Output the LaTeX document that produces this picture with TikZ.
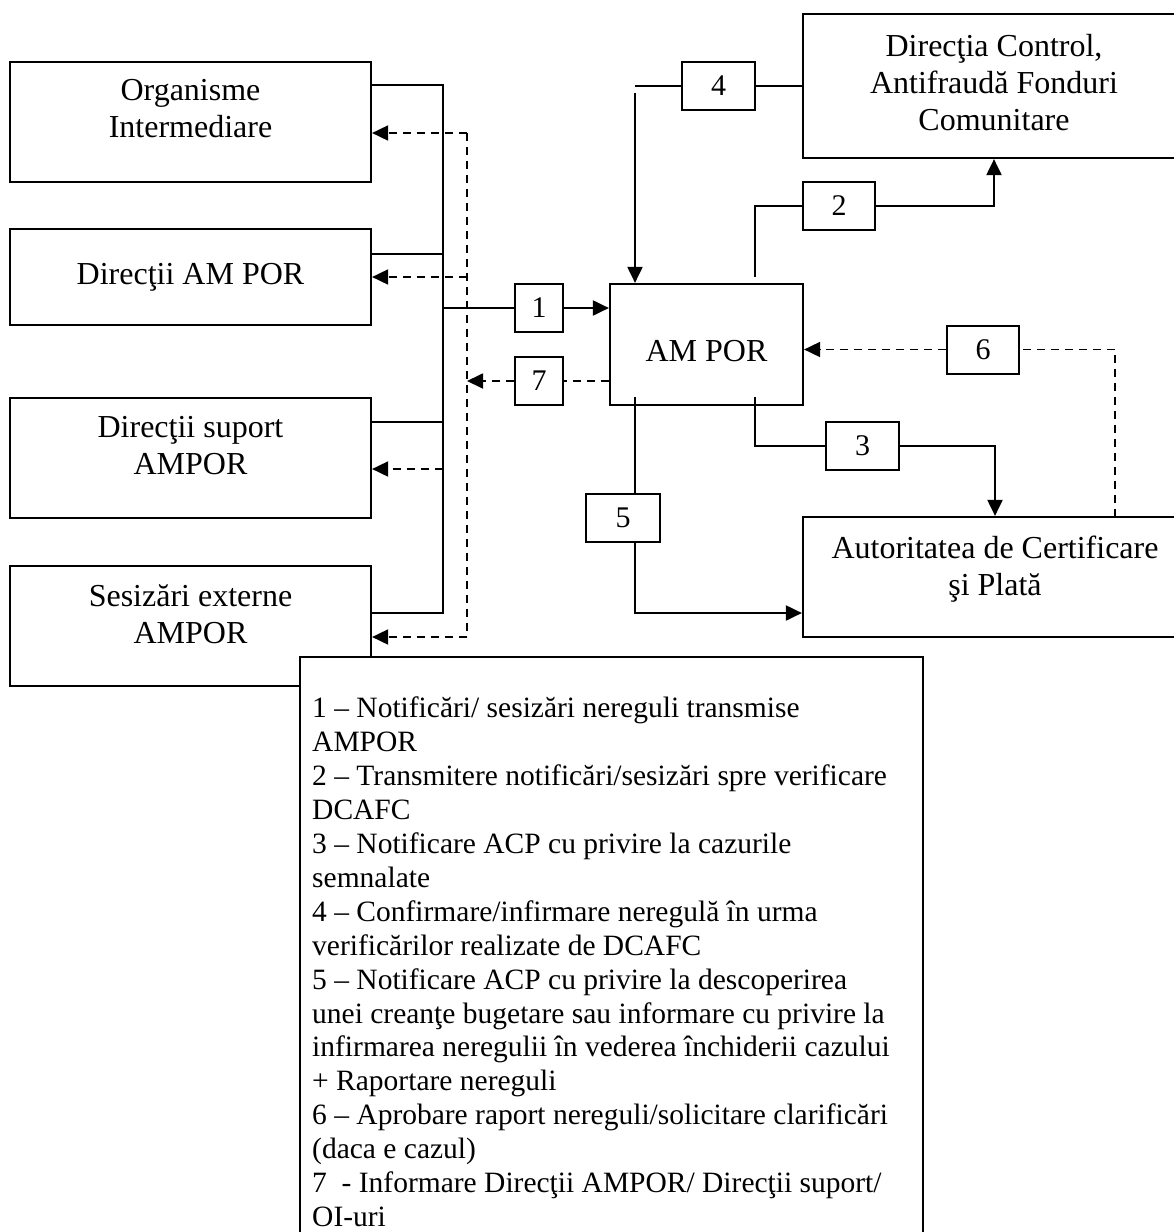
\documentclass[tikz,border=0pt]{standalone}
\usepackage{fontspec}
\setmainfont{Liberation Serif}
\usetikzlibrary{arrows.meta}

\begin{document}
\begin{tikzpicture}[x=1pt,y=-1pt]

	\tikzstyle{box}=[draw,line width=2.2pt,fill=white,inner sep=0pt]
	\tikzstyle{boxtext}=[align=center,inner sep=0pt,font=\fontsize{32}{37}\selectfont]
	\tikzstyle{numbox}=[draw,line width=2pt,fill=white,minimum height=48,inner sep=0pt,font=\fontsize{30}{34}\selectfont]
	\tikzstyle{link}=[line width=2pt]
	\tikzstyle{dlink}=[line width=1.8pt,dash pattern=on 8pt off 6pt]
	\tikzstyle{myarrow}=[link,-{Triangle[length=16pt,width=15pt]}]
	\tikzstyle{mydarrow}=[dlink,-{Triangle[length=16pt,width=15pt]}]

	\useasboundingbox (0,0) rectangle (1174,1232);
	\clip (0,0) rectangle (1174,1232);

	% left column
	\node[box,minimum width=361,minimum height=120,label={[boxtext,yshift=13pt]center:{Organisme\\Intermediare}}] (oi) at (190.5,122) {};
	\node[box,minimum width=361,minimum height=96,label={[boxtext]center:{Direcţii AM POR}}] (dam) at (190.5,277) {};
	\node[box,minimum width=361,minimum height=120,label={[boxtext,yshift=12pt]center:{Direcţii suport\\AMPOR}}] (ds) at (190.5,458) {};
	\node[box,minimum width=361,minimum height=120,label={[boxtext,yshift=12pt]center:{Sesizări externe\\AMPOR}}] (se) at (190.5,626) {};

	% right column
	\node[box,minimum width=382,minimum height=144,label={[boxtext,yshift=3pt]center:{Direcţia Control,\\Antifraudă Fonduri\\Comunitare}}] (dcafc) at (994,86) {};
	\node[box,minimum width=193,minimum height=121,label={[boxtext,yshift=-7pt]center:{AM POR}}] (ampor) at (706.5,344.5) {};
	\node[box,minimum width=384,minimum height=120,label={[boxtext,yshift=8pt]center:{Autoritatea de Certificare\\şi Plată}}] (acp) at (995,577) {};

	\coordinate (bus) at (443,0);
	\coordinate (dbus) at (467,0);

	% flow numbers
	\foreach \n / \x / \y / \w in {1/539/308/48,7/539/381/48,4/718.5/86/73,2/839/205.5/72,6/983/349.5/72,3/862.5/446/73,5/623/517.5/74}{ \node[numbox,minimum width=\w] (n\n) at (\x,\y) {\n};}

	% solid bus on the left
	\draw[link] ([yshift=37pt]oi.east) -- ([yshift=37pt]oi.east -| bus) -- ([yshift=13pt]se.east -| bus) -- ([yshift=13pt]se.east);
	\draw[link] ([yshift=23pt]dam.east) -- ([yshift=23pt]dam.east -| bus);
	\draw[link] ([yshift=36pt]ds.east) -- ([yshift=36pt]ds.east -| bus);
	\draw[link] (bus |- n1) -- (n1);
	\draw[myarrow] (n1) -- (n1 -| ampor.west);

	% dashed return on the left
	\draw[dlink] (ampor.west |- n7) -- (n7);
	\draw[mydarrow] (n7) -- (n7 -| dbus);
	\draw[dlink] ([yshift=-11pt]oi.east -| dbus) -- ([yshift=-11pt]se.east -| dbus);
	\draw[mydarrow] ([yshift=-11pt]oi.east -| dbus) -- ([yshift=-11pt]oi.east);
	\draw[mydarrow] (dam.east -| dbus) -- (dam.east);
	\draw[mydarrow] ([yshift=-11pt]ds.east -| bus) -- ([yshift=-11pt]ds.east);
	\draw[mydarrow] ([yshift=-11pt]se.east -| dbus) -- ([yshift=-11pt]se.east);

	% 4
	\coordinate (c4) at (635,86);
	\draw[link] (dcafc.west |- n4) -- (n4) -- (c4);
	\draw[myarrow] ([yshift=-7pt]c4) -- (c4 |- ampor.north);
	% 2
	\coordinate (c2) at (755,277);
	\draw[link] (c2) |- (n2);
	\draw[myarrow] (n2) -| (dcafc.south);
	% 3
	\coordinate (c3) at (755,397);
	\draw[link] (c3) |- (n3);
	\draw[myarrow] (n3) -| (acp.north);
	% 5
	\coordinate (c5) at (635,397);
	\draw[link] (c5) -- (c5 |- n5.north);
	\draw[myarrow] (c5 |- n5.south) |- ([yshift=-36pt]acp.west);
	% 6
	\coordinate (c6) at (1115,517);
	\draw[dlink] (c6) |- (n6);
	\draw[mydarrow] (n6) -- (n6 -| ampor.east);

	% legend
	\node[box,anchor=north west,minimum width=623,minimum height=620] (legend) at (299,656) {};
	\node[anchor=north west,align=left,inner sep=0pt,font=\fontsize{29.5}{33.9}\selectfont] (legtext) at (312,697) {1 – Notificări/ sesizări nereguli transmise\\AMPOR\\2 – Transmitere notificări/sesizări spre verificare\\DCAFC\\3 – Notificare ACP cu privire la cazurile\\semnalate\\4 – Confirmare/infirmare neregulă în urma\\verificărilor realizate de DCAFC\\5 – Notificare ACP cu privire la descoperirea\\unei creanţe bugetare sau informare cu privire la\\infirmarea neregulii în vederea închiderii cazului\\+ Raportare nereguli\\6 – Aprobare raport nereguli/solicitare clarificări\\(daca e cazul)\\7\ \ - Informare Direcţii AMPOR/ Direcţii suport/\\OI-uri};
\end{tikzpicture}
\end{document}
